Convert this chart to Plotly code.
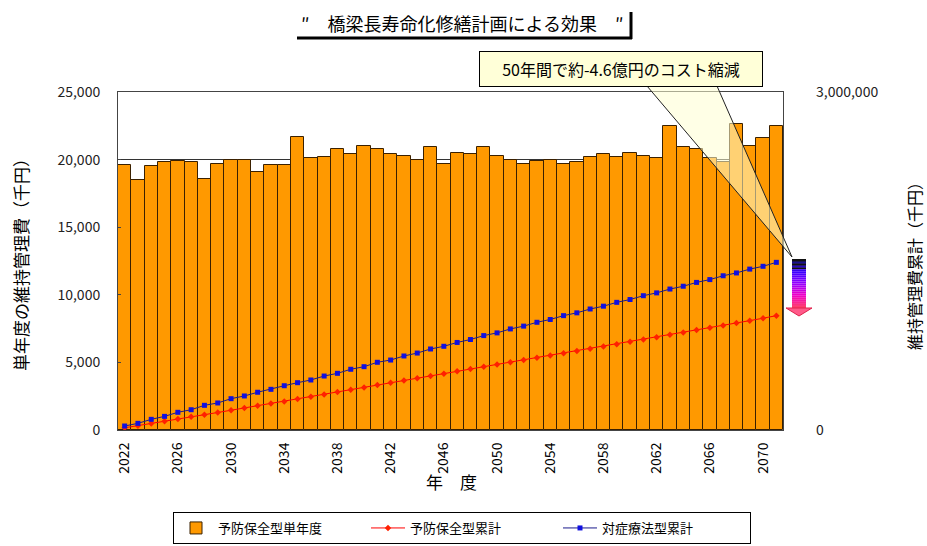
import plotly.graph_objects as go

years = list(range(2022, 2072))
single_year = [19600, 18500, 19500, 19800, 19900, 19800, 18600, 19700, 20000, 20000,
               19100, 19600, 19600, 21700, 20100, 20200, 20800, 20400, 21000, 20800,
               20400, 20300, 20000, 20900, 19700, 20500, 20400, 20900, 20300, 20000,
               19700, 19900, 20000, 19700, 19800, 20200, 20400, 20200, 20500, 20300,
               20100, 22500, 20900, 20800, 20100, 19800, 22600, 21000, 21600, 22500]
preventive_cum = [19600, 38100, 57600, 77400, 97300, 117100, 135700, 155400, 175400, 195400,
                  214500, 234100, 253700, 275400, 295500, 315700, 336500, 356900, 377900, 398700,
                  419100, 439400, 459400, 480300, 500000, 520500, 540900, 561800, 582100, 602100,
                  621800, 641700, 661700, 681400, 701200, 721400, 741800, 762000, 782500, 802800,
                  822900, 845400, 866300, 887100, 907200, 927000, 949600, 970600, 992200, 1014700]
reactive_cum = [35500, 59000, 94600, 121000, 157000, 180000, 219000, 240000, 278000, 302000,
                335000, 361000, 393000, 420000, 444000, 479000, 503000, 539000, 562000, 601000,
                621000, 657000, 683000, 719000, 743000, 777000, 803000, 838000, 862000, 897000,
                922000, 956000, 981000, 1015000, 1040000, 1074000, 1099000, 1133000, 1158000, 1192000,
                1217000, 1251000, 1276000, 1310000, 1335000, 1369000, 1394000, 1428000, 1453000, 1488000]
x_tick_years = list(range(2022, 2071, 4))
left_ticks = [0, 5000, 10000, 15000, 20000, 25000]
right_ticks = [0, 3000000]
right_ticktext = ["0", "3,000,000"]

names = ["予防保全型単年度", "予防保全型累計", "対症療法型累計"]
title_text = "″　橋梁長寿命化修繕計画による効果　″"
callout_text = "50年間で約-4.6億円のコスト縮減"

FONT = "Noto Sans CJK JP"
W, H = 927, 546
L, R, T, B = 118, 783, 92, 430


def px(x):
    return (x - L) / (R - L)


def py(y):
    return (B - y) / (B - T)


fig = go.Figure()
fig.add_trace(go.Bar(x=years, y=single_year, name=names[0],
                     marker=dict(color="#FF9900", line=dict(color="#3A2000", width=1)),
                     yaxis="y"))
fig.add_trace(go.Scatter(x=years, y=preventive_cum, name=names[1], mode="lines+markers",
                         line=dict(color="#FF0000", width=1),
                         marker=dict(symbol="diamond", size=5, color="#FF2000"),
                         yaxis="y2"))
fig.add_trace(go.Scatter(x=years, y=reactive_cum, name=names[2], mode="lines+markers",
                         line=dict(color="#1A1A8C", width=1),
                         marker=dict(symbol="square", size=5, color="#1010E0"),
                         yaxis="y2"))

shapes = []
# title drop-shadow frame
shapes.append(dict(type="line", xref="paper", yref="paper", x0=px(297), y0=py(38), x1=px(632), y1=py(38),
                   line=dict(color="black", width=3)))
shapes.append(dict(type="line", xref="paper", yref="paper", x0=px(631), y0=py(12), x1=px(631), y1=py(39),
                   line=dict(color="black", width=3)))
# callout wedge
tip = (792, 257)
shapes.append(dict(type="path", xref="paper", yref="paper",
                   path=f"M {px(647)},{py(86)} L {px(717)},{py(86)} L {px(tip[0])},{py(tip[1])} Z",
                   fillcolor="rgba(255,255,210,0.55)", line=dict(width=0), layer="above"))
shapes.append(dict(type="line", xref="paper", yref="paper", x0=px(647), y0=py(86), x1=px(tip[0]), y1=py(tip[1]),
                   line=dict(color="#222", width=1), layer="above"))
shapes.append(dict(type="line", xref="paper", yref="paper", x0=px(717), y0=py(86), x1=px(tip[0]), y1=py(tip[1]),
                   line=dict(color="#222", width=1), layer="above"))

# gradient arrow
ax0, ax1 = 792, 806
stops = [(0.0, (20, 20, 120)), (0.25, (60, 0, 255)), (0.5, (150, 0, 255)), (0.75, (240, 0, 200)), (1.0, (255, 60, 110))]


def grad(t):
    for i in range(len(stops) - 1):
        t0, c0 = stops[i]
        t1, c1 = stops[i + 1]
        if t0 <= t <= t1:
            f = (t - t0) / (t1 - t0)
            return "rgb(%d,%d,%d)" % tuple(int(c0[k] + (c1[k] - c0[k]) * f) for k in range(3))
    return "rgb(255,60,110)"


y_top, y_bot = 259, 308
n = 24
for i in range(n):
    ya = y_top + (y_bot - y_top) * i / n
    yb = y_top + (y_bot - y_top) * (i + 1) / n
    shapes.append(dict(type="rect", xref="paper", yref="paper", x0=px(ax0), x1=px(ax1), y0=py(yb), y1=py(ya),
                       fillcolor=grad(i / (n - 1)), line=dict(width=0), layer="above"))
for (s0, s1) in [(259, 261.5), (263.5, 265.5), (267.5, 269)]:
    shapes.append(dict(type="rect", xref="paper", yref="paper", x0=px(ax0), x1=px(ax1), y0=py(s1), y1=py(s0),
                       fillcolor="#111", line=dict(width=0), layer="above"))
shapes.append(dict(type="path", xref="paper", yref="paper",
                   path=f"M {px(786)},{py(308)} L {px(812)},{py(308)} L {px(799)},{py(316)} Z",
                   fillcolor="#FF5A8A", line=dict(color="#E0204A", width=1), layer="above"))

annotations = [
    dict(text=title_text, xref="paper", yref="paper", x=px(462), y=py(23), showarrow=False,
         font=dict(family=FONT, size=18, color="black"), xanchor="center", yanchor="middle"),
    dict(text=callout_text, xref="paper", yref="paper", x=px(621), y=py(69), showarrow=False,
         font=dict(family=FONT, size=16, color="black"), bgcolor="#FFFFD8", bordercolor="black",
         borderwidth=1, borderpad=3, width=276, height=28, xanchor="center", yanchor="middle"),
    dict(text="単年度の維持管理費（千円）", xref="paper", yref="paper", x=px(20), y=py(261), showarrow=False,
         textangle=-90, font=dict(family=FONT, size=17, color="black"), xanchor="center", yanchor="middle"),
    dict(text="維持管理費累計（千円）", xref="paper", yref="paper", x=px(914), y=py(262), showarrow=False,
         textangle=-90, font=dict(family=FONT, size=16, color="black"), xanchor="center", yanchor="middle"),
    dict(text="年　度", xref="paper", yref="paper", x=px(451), y=py(482), showarrow=False,
         font=dict(family=FONT, size=17, color="black"), xanchor="center", yanchor="middle"),
]

fig.update_layout(
    width=W, height=H,
    margin=dict(l=L, r=W - R, t=T, b=H - B, pad=0, autoexpand=False),
    paper_bgcolor="white", plot_bgcolor="white",
    bargap=0,
    font=dict(family=FONT, size=13, color="black"),
    showlegend=True,
    legend=dict(orientation="h", x=px(462), xanchor="center", y=py(512), yanchor="top",
                bordercolor="black", borderwidth=1, bgcolor="white",
                font=dict(family=FONT, size=13), itemwidth=34, tracegroupgap=0,
                entrywidth=143, entrywidthmode="pixels",
                traceorder="normal"),
    xaxis=dict(range=[2021.5, 2071.5], tickmode="array", tickvals=x_tick_years,
               ticktext=[str(v) for v in x_tick_years], tickangle=-90, automargin=False,
               showline=True, linecolor="#444", mirror=True, ticks="", showgrid=False,
               ticklabelstandoff=6,
               tickfont=dict(family=FONT, size=14), zeroline=False),
    yaxis=dict(range=[0, 25000], tickmode="array", tickvals=left_ticks,
               ticktext=[f"{v:,}" for v in left_ticks], automargin=False,
               showline=True, linecolor="#444", mirror=True, ticks="inside", ticklen=3,
               tickcolor="#444", showgrid=True, gridcolor="#333", gridwidth=1, zeroline=False,
               ticklabelstandoff=14, tickfont=dict(family=FONT, size=14, color="#222")),
    yaxis2=dict(range=[0, 3000000], overlaying="y", side="right", tickmode="array",
                tickvals=right_ticks, ticktext=right_ticktext, showgrid=False, zeroline=False,
                showline=False, ticks="", ticklabelstandoff=32, automargin=False,
                tickfont=dict(family=FONT, size=14, color="#222")),
    shapes=shapes,
    annotations=annotations,
)

fig.write_html("out.html", config={"displayModeBar": False},
               post_script="document.body.style.margin='0px';")
